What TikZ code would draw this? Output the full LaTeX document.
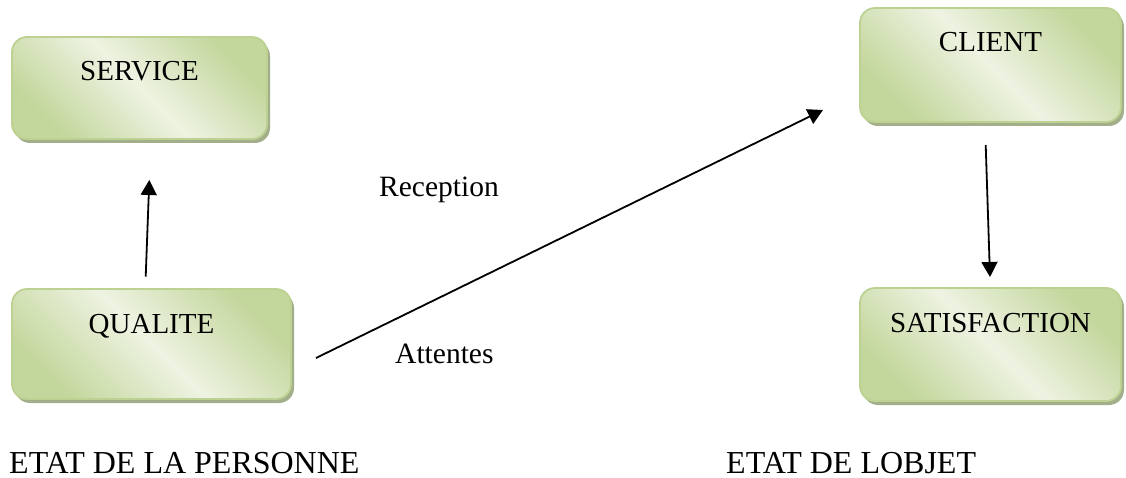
\documentclass[tikz,border=0pt]{standalone}
\usepackage{fontspec}
\setmainfont{Liberation Serif}
\usetikzlibrary{arrows.meta,shadows}
\definecolor{boxgreen}{HTML}{C3D69B}
\definecolor{boxpale}{HTML}{EEF3E2}
\definecolor{boxborder}{HTML}{BDD292}
\definecolor{shadowcol}{HTML}{A3AF8A}
\tikzset{
  procbox/.style={draw=boxborder, line width=1.8pt, rounded corners=15pt,
    shade, top color=boxgreen, bottom color=boxgreen, middle color=boxpale, shading angle=-45,
    general shadow={fill=shadowcol, shadow xshift=3pt, shadow yshift=-4pt},
    inner sep=0pt, font=\fontsize{29}{34}\selectfont, text height=44pt, align=center},
  lbl/.style={inner sep=0pt, anchor=base west, font=\fontsize{29.5}{35}\selectfont},
  foot/.style={inner sep=0pt, anchor=base west, font=\fontsize{32}{38}\selectfont},
  arr/.style={line width=1.8pt, -{Triangle[length=15pt,width=16pt]}},
}
\begin{document}
\begin{tikzpicture}[x=1pt,y=-1pt]
\useasboundingbox (0,0) rectangle (1126,478);
\node[procbox, minimum width=255pt, text depth=58pt] (service) at (139.5,88) {SERVICE};
\node[procbox, minimum width=279pt, text depth=66pt] (qualite) at (151.5,344) {QUALITE};
\node[procbox, minimum width=261pt, text depth=70pt] (client) at (990.5,65) {CLIENT};
\node[procbox, minimum width=261pt, text depth=69pt] (satisf) at (990.5,344.5) {SATISFACTION};

\coordinate (q1) at (145.7,276.7);
\coordinate (s1) at (149.3,180);
\coordinate (q2) at (316,358);
\coordinate (c2) at (823,110);
\coordinate (c3) at (985.7,145);
\coordinate (s3) at (990,277);

\draw[arr] (q1) -- (s1);
\draw[arr] (q2) -- (c2);
\draw[arr] (c3) -- (s3);

\node[lbl] (rec) at (379,197) {Reception};
\node[lbl] (att) at (395,363) {Attentes};
\node[foot] (ep) at (9,473) {ETAT DE LA PERSONNE};
\node[foot] (eo) at (726,473) {ETAT DE LOBJET};
\end{tikzpicture}
\end{document}
